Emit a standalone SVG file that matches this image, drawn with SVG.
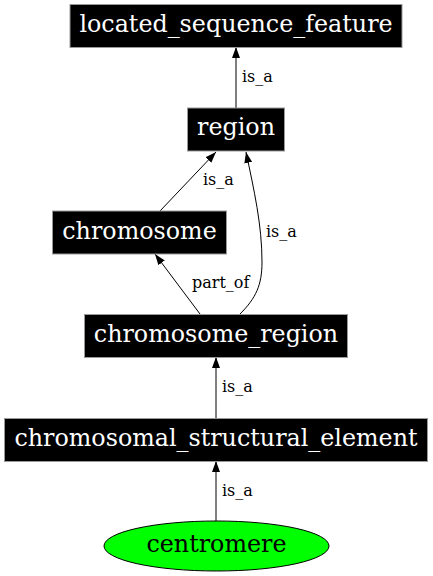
<svg xmlns="http://www.w3.org/2000/svg" width="433" height="576" viewBox="0 0 433 576">
<defs>
<style>
.box{fill:#000;stroke:#999;stroke-width:1}
.nt{font-family:"DejaVu Serif",serif;font-size:23.8px;fill:#fff;text-anchor:middle}
.nt2{font-family:"DejaVu Serif",serif;font-size:23.8px;fill:#000;text-anchor:middle}
.el{font-family:"DejaVu Serif",serif;font-size:16px;fill:#000}
.edge{fill:none;stroke:#000;stroke-width:1}
</style>
<marker id="arr" viewBox="0 0 11 8" refX="11" refY="4" markerWidth="11" markerHeight="8" markerUnits="userSpaceOnUse" orient="auto">
<path d="M0,0 L11,4 L0,8 Z" fill="#000"/>
</marker>
</defs>
<rect width="433" height="576" fill="#fff"/>
<g id="connectors">
<path class="edge" d="M236,108 L236,47" marker-end="url(#arr)"/>
<text class="el" x="242" y="82">is_a</text>
<path class="edge" d="M160,211 L216,152" marker-end="url(#arr)"/>
<text class="el" x="203" y="185">is_a</text>
<path class="edge" d="M240,314 C256,298 262,285 262,262 C262,225 254,190 246,152" marker-end="url(#arr)"/>
<text class="el" x="266" y="237">is_a</text>
<path class="edge" d="M200,314 L155,254" marker-end="url(#arr)"/>
<text class="el" x="192" y="288">part_of</text>
<path class="edge" d="M216,418 L216,357" marker-end="url(#arr)"/>
<text class="el" x="222" y="392">is_a</text>
<path class="edge" d="M216,521 L216,461" marker-end="url(#arr)"/>
<text class="el" x="222" y="496">is_a</text>
</g>
<g id="located_sequence_feature">
<rect class="box" x="70" y="4.5" width="332" height="43"/>
<text class="nt" x="236" y="32">located_sequence_feature</text>
</g>
<g id="region">
<rect class="box" x="187.5" y="108" width="97" height="43"/>
<text class="nt" x="236" y="135">region</text>
</g>
<g id="chromosome">
<rect class="box" x="52.5" y="211" width="174" height="43"/>
<text class="nt" x="139.5" y="239">chromosome</text>
</g>
<g id="chromosome_region">
<rect class="box" x="84.5" y="314.5" width="263" height="43"/>
<text class="nt" x="216" y="342">chromosome_region</text>
</g>
<g id="chromosomal_structural_element">
<rect class="box" x="4.5" y="418.5" width="423" height="43"/>
<text class="nt" x="216" y="446">chromosomal_structural_element</text>
</g>
<g id="centromere">
<ellipse cx="216.5" cy="546" rx="112.5" ry="25" fill="#00ff00" stroke="#000" stroke-width="1"/>
<text class="nt2" x="216.5" y="552">centromere</text>
</g>
</svg>
